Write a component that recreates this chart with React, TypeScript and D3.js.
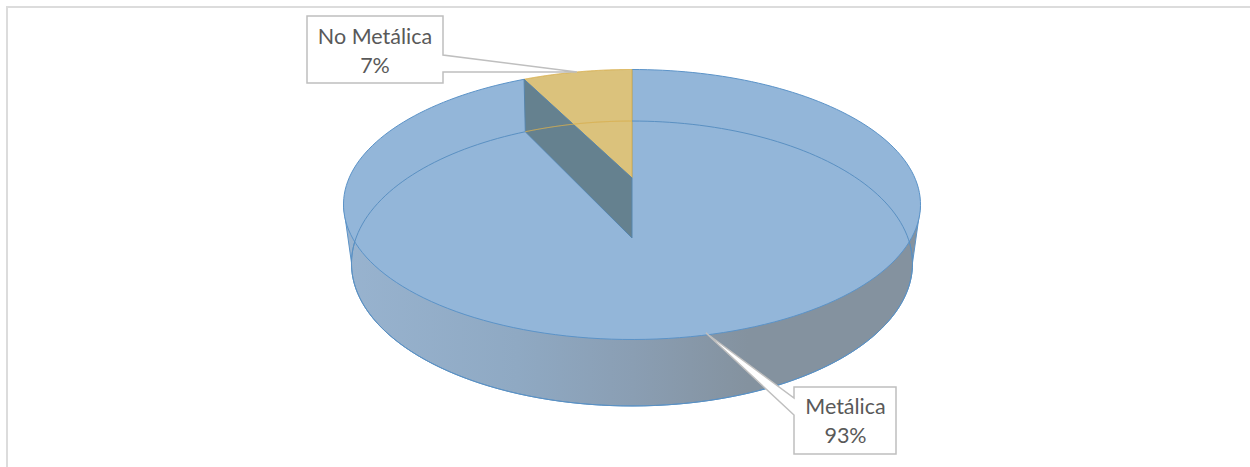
import React from "react";
import * as d3 from "d3";

const categories = ["Metálica", "No Metálica"];
const values = [92.6, 7.4];
const percentLabels = ["93%", "7%"];
const colors = ["#93b6d9", "#dbc27c"];

const W = 1250, H = 467;
const FONT = "Lato, 'Open Sans', sans-serif";

// perspective projection of a unit disc
const makeDisc = (cy: number, a: number, b: number, k: number) => (angle: number): [number, number] => {
  const u = Math.sin(angle), v = -Math.cos(angle);
  const den = 1 + k * v;
  return [632 + (b * u) / den, cy + (a * v) / den];
};
const topDisc = makeDisc(178, 129.8, 282.9, -0.1963);
const botDisc = makeDisc(238, 137.9, 276, -0.179);

const line = d3.line();
const arcPts = (disc: (a: number) => [number, number], a0: number, a1: number) =>
  d3.range(0, 181).map((i) => disc(a0 + ((a1 - a0) * i) / 180));

const slices = d3.pie<number>().sort(null)(values);
const apexTop: [number, number] = [632, 178];
const apexBot: [number, number] = [632, 238];
const TAU = Math.PI * 2;
const split = slices[1].startAngle;

const full = (disc: (a: number) => [number, number]) => arcPts(disc, 0, TAU);
const extreme = (pts: [number, number][], sign: number) =>
  pts.reduce((m, p) => (sign * p[0] > sign * m[0] ? p : m));
const topPts = full(topDisc), botPts = full(botDisc);
const hull: [number, number][] = [extreme(topPts, -1), extreme(botPts, -1), extreme(botPts, 1), extreme(topPts, 1)];

const callouts = [
  { box: [794, 387, 102, 67], base: [[794, 398], [794, 415]], tip: [706, 333], cat: categories[0], pct: percentLabels[0], tx: 845.5, y: 414 },
  { box: [307, 16, 136, 67], base: [[443, 55], [443, 72]], tip: [577, 72], cat: categories[1], pct: percentLabels[1], tx: 375, y: 44 },
];

function calloutPath(c: (typeof callouts)[number]) {
  const [x, y, w, h] = c.box;
  const r = x + w, b = y + h;
  const [p, q] = c.base;
  if (p[0] === x) {
    return `M${x},${y}H${r}V${b}H${x}V${q[1]}L${c.tip[0]},${c.tip[1]}L${x},${p[1]}Z`;
  }
  return `M${x},${y}H${r}V${p[1]}L${c.tip[0]},${c.tip[1]}L${r},${q[1]}V${b}H${x}Z`;
}

export default function App() {
  return (
    <svg width={W} height={H} style={{ position: "absolute", left: 0, top: 0, background: "#fff" }}>
      <defs>
        <linearGradient id="wall" gradientUnits="userSpaceOnUse" x1={344} x2={921} y1={0} y2={0}>
          <stop offset="0" stopColor="#98b3cf" />
          <stop offset="0.3" stopColor="#8fa9c3" />
          <stop offset="0.5" stopColor="#8a9eb3" />
          <stop offset="0.7" stopColor="#84929f" />
          <stop offset="1" stopColor="#84929f" />
        </linearGradient>
      </defs>
      <path d={`M7,${H}V7H${W}`} fill="none" stroke="#dcdcdc" strokeWidth={2} />

      {/* side wall */}
      <path d={line(hull)! + "Z"} fill="url(#wall)" />
      <path d={line(botPts)! + "Z"} fill="url(#wall)" stroke="#5b93c8" strokeWidth={1} />
      <path d={line([hull[0], hull[1]])!} stroke="#5b93c8" strokeWidth={1} fill="none" />
      <path d={line([hull[3], hull[2]])!} stroke="#5b93c8" strokeWidth={1} fill="none" />

      {/* top faces */}
      <path
        d={line([apexTop, ...arcPts(topDisc, slices[0].startAngle, slices[0].endAngle)])! + "Z"}
        fill={colors[0]}
        stroke="#5b93c8"
        strokeWidth={1}
      />
      <path
        d={line([apexTop, ...arcPts(topDisc, slices[1].startAngle, slices[1].endAngle)])! + "Z"}
        fill={colors[1]}
        stroke="#d9b04f"
        strokeWidth={1}
      />
      {/* inner wall of the wedge */}
      <path
        d={line([apexTop, apexBot, botDisc(split), topDisc(split)])! + "Z"}
        fill="#65818f"
        stroke="#5685ad"
        strokeWidth={1}
      />
      {/* bottom rim seen through the top */}
      <path d={line(arcPts(botDisc, 0, split))!} fill="none" stroke="#5a90c2" strokeWidth={1} />
      <path d={line(arcPts(botDisc, split, TAU))!} fill="none" stroke="#d9b04f" strokeWidth={1} />

      {callouts.map((c) => (
        <g key={c.cat}>
          <path d={calloutPath(c)} fill="#fff" stroke="#bfbfbf" strokeWidth={1.5} />
          <text x={c.tx} y={c.y} textAnchor="middle" fontFamily={FONT} fontSize={21.5} fill="#595959">
            <tspan x={c.tx}>{c.cat}</tspan>
            <tspan x={c.tx} dy={28.5}>{c.pct}</tspan>
          </text>
        </g>
      ))}
    </svg>
  );
}
